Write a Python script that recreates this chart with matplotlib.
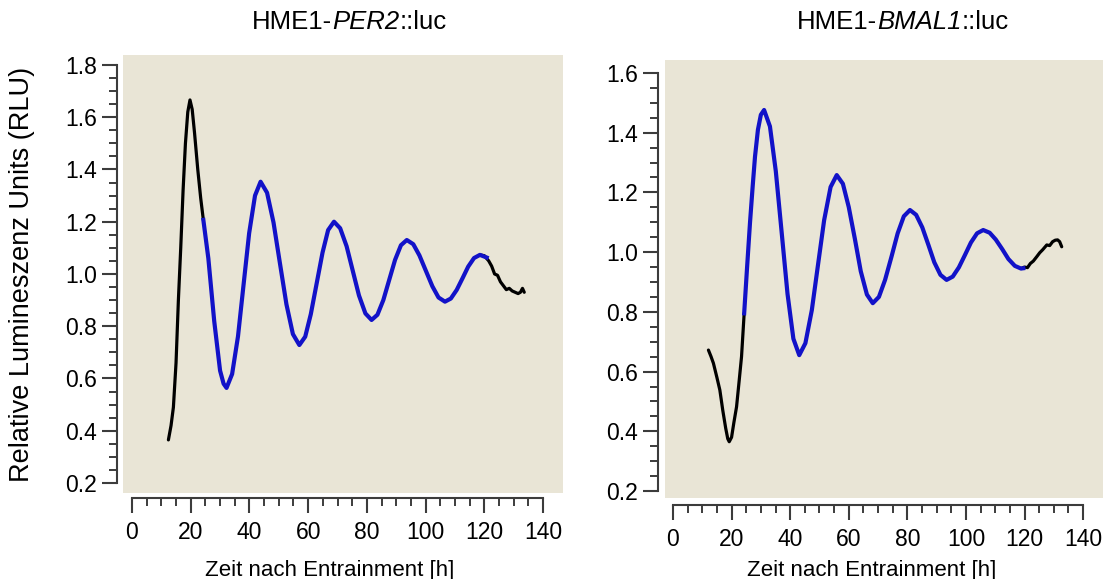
import matplotlib
matplotlib.use("Agg")
import matplotlib.pyplot as plt
import numpy as np
from matplotlib.ticker import FixedLocator

plt.rcParams['font.family'] = 'Liberation Sans'

# PER2 reporter: raw trace (black) before and after the fitted window, fit (blue)
per2_raw_start_t = [12.4, 13.3, 14.1, 15.0, 15.8, 16.6, 17.4, 18.2, 19.0, 19.75, 20.5, 21.3, 22.4, 23.4, 24.3]
per2_raw_start_v = [0.365, 0.42, 0.49, 0.66, 0.90, 1.10, 1.32, 1.50, 1.62, 1.666, 1.63, 1.54, 1.40, 1.29, 1.207]
per2_raw_end_t = [118.5, 120.0, 121.5, 122.5, 123.5, 124.5, 125.5, 126.5, 127.5, 128.5, 129.5, 130.5, 131.5, 132.3, 133.0, 133.6]
per2_raw_end_v = [1.073, 1.07, 1.05, 1.03, 1.00, 0.995, 0.97, 0.955, 0.94, 0.945, 0.935, 0.93, 0.925, 0.93, 0.945, 0.93]
per2_fit_t = [24.3, 26.0, 28.0, 30.0, 31.2, 32.2, 34.1, 36.1, 38.0, 39.9, 41.9, 43.8,
              46.0, 48.2, 50.4, 52.6, 54.8, 57.0, 59.0, 60.9, 62.9, 64.9, 66.8, 68.8,
              70.9, 73.1, 75.2, 77.3, 79.5, 81.6, 83.6, 85.6, 87.6, 89.6, 91.6, 93.6,
              95.8, 97.9, 100.1, 102.3, 104.4, 106.6, 108.6, 110.6, 112.6, 114.5, 116.5, 118.5, 120.8]
per2_fit_v = [1.207, 1.06, 0.82, 0.63, 0.58, 0.564, 0.617, 0.761, 0.959, 1.156, 1.300, 1.353,
              1.311, 1.197, 1.040, 0.884, 0.770, 0.728, 0.760, 0.846, 0.964, 1.082, 1.168, 1.200,
              1.175, 1.106, 1.012, 0.918, 0.849, 0.824, 0.844, 0.900, 0.977, 1.054, 1.110, 1.130,
              1.114, 1.071, 1.012, 0.953, 0.910, 0.894, 0.906, 0.939, 0.984, 1.028, 1.061, 1.073, 1.063]

# BMAL1 reporter
bmal1_raw_start_t = [12.1, 13.0, 13.8, 15.0, 16.0, 17.0, 18.0, 18.7, 19.2, 20.0, 20.8, 21.7, 22.6, 23.4, 24.3]
bmal1_raw_start_v = [0.672, 0.65, 0.628, 0.58, 0.538, 0.47, 0.41, 0.375, 0.365, 0.38, 0.43, 0.482, 0.57, 0.65, 0.795]
bmal1_raw_end_t = [118.8, 120.0, 121.0, 122.0, 123.0, 124.2, 125.2, 126.2, 127.6, 128.6, 129.6, 130.5, 131.3, 132.0, 132.7]
bmal1_raw_end_v = [0.945, 0.95, 0.948, 0.962, 0.97, 0.985, 0.998, 1.008, 1.024, 1.022, 1.035, 1.04, 1.041, 1.035, 1.018]
bmal1_fit_t = [24.3, 25.3, 26.3, 27.2, 28.0, 29.0, 30.0, 31.1, 33.1, 35.1, 37.1, 39.1, 41.1, 43.1,
               45.2, 47.4, 49.5, 51.6, 53.8, 55.9, 58.0, 60.0, 62.1, 64.1, 66.2, 68.2,
               70.3, 72.4, 74.6, 76.7, 78.8, 80.9, 83.0, 85.1, 87.2, 89.2, 91.3, 93.4,
               95.5, 97.6, 99.7, 101.7, 103.8, 105.9, 108.1, 110.2, 112.4, 114.5, 116.7, 118.8, 119.6]
bmal1_fit_v = [0.795, 0.95, 1.10, 1.22, 1.32, 1.41, 1.46, 1.476, 1.421, 1.271, 1.066, 0.860, 0.710, 0.655,
               0.695, 0.806, 0.957, 1.107, 1.218, 1.258, 1.229, 1.151, 1.044, 0.936, 0.858, 0.829,
               0.850, 0.907, 0.985, 1.063, 1.120, 1.141, 1.125, 1.083, 1.024, 0.966, 0.924, 0.907,
               0.918, 0.949, 0.991, 1.032, 1.063, 1.074, 1.065, 1.042, 1.010, 0.977, 0.954, 0.945, 0.946]

x_ticks = [0, 20, 40, 60, 80, 100, 120, 140]
per2_yticks = [0.2, 0.4, 0.6, 0.8, 1.0, 1.2, 1.4, 1.6, 1.8]
bmal1_yticks = [0.2, 0.4, 0.6, 0.8, 1.0, 1.2, 1.4, 1.6]

bg = '#e9e5d6'
axis_col = '#3c3c3c'
fit_col = '#1212c8'

fig = plt.figure(figsize=(11.05, 5.79), dpi=100)
ax1 = fig.add_axes([0.1113, 0.1485, 0.3982, 0.7565])
ax2 = fig.add_axes([0.6018, 0.1399, 0.3964, 0.7565])


def style_axes(ax, xlim, ylim, yticks, left_off, bottom_off):
    ax.set_facecolor(bg)
    ax.set_xlim(*xlim)
    ax.set_ylim(*ylim)
    for side in ['top', 'right']:
        ax.spines[side].set_visible(False)
    ax.spines['left'].set_bounds(yticks[0], yticks[-1])
    ax.spines['bottom'].set_bounds(x_ticks[0], x_ticks[-1])
    ax.spines['left'].set_position(('outward', left_off))
    ax.spines['bottom'].set_position(('outward', bottom_off))
    for side in ['left', 'bottom']:
        ax.spines[side].set_color(axis_col)
        ax.spines[side].set_linewidth(1.5)
    ax.set_xticks(x_ticks)
    ax.set_yticks(yticks)
    ax.set_yticklabels(['%.1f' % v for v in yticks])
    # minor ticks only between the first and last major tick
    ax.xaxis.set_minor_locator(FixedLocator(np.arange(x_ticks[0], x_ticks[-1] + 0.1, 5)))
    ax.yaxis.set_minor_locator(FixedLocator(np.arange(yticks[0], yticks[-1] + 0.01, 0.05)))
    ax.tick_params(which='major', direction='out', length=10.5, width=1.5, color=axis_col,
                   labelsize=16.5, labelcolor='black')
    ax.tick_params(which='minor', direction='out', length=5.5, width=1.4, color=axis_col)
    ax.tick_params(axis='y', pad=4)
    ax.tick_params(axis='x', pad=6)


style_axes(ax1, (-3.07, 146.8), (0.1617, 1.838), per2_yticks, 4.3, 3.6)
style_axes(ax2, (-2.73, 146.8), (0.1766, 1.6435), bmal1_yticks, 5.0, 5.0)

# raw traces underneath, fitted curve on top
ax1.plot(per2_raw_start_t, per2_raw_start_v, color='black', lw=2.3, solid_capstyle='round')
ax1.plot(per2_raw_end_t, per2_raw_end_v, color='black', lw=2.3, solid_capstyle='round')
ax1.plot(per2_fit_t, per2_fit_v, color=fit_col, lw=3.0, solid_joinstyle='round')

ax2.plot(bmal1_raw_start_t, bmal1_raw_start_v, color='black', lw=2.3, solid_capstyle='round')
ax2.plot(bmal1_raw_end_t, bmal1_raw_end_v, color='black', lw=2.3, solid_capstyle='round')
ax2.plot(bmal1_fit_t, bmal1_fit_v, color=fit_col, lw=3.0, solid_joinstyle='round')


def mixed_title(cx, y, parts, size):
    # draw a title made of upright and italic pieces, centred on cx (figure pixels)
    renderer = fig.canvas.get_renderer()
    texts = []
    for s, style in parts:
        t = fig.text(0, y, s, fontsize=size, style=style, ha='left', va='baseline')
        texts.append(t)
    widths = [t.get_window_extent(renderer).width for t in texts]
    x = cx - sum(widths) / 2
    for t, w in zip(texts, widths):
        t.set_x(x / fig.bbox.width)
        x += w


mixed_title(349, 1 - 29 / 579, [('HME1-', 'normal'), ('PER2', 'italic'), ('::luc', 'normal')], 18.5)
mixed_title(903, 1 - 29 / 579, [('HME1-', 'normal'), ('BMAL1', 'italic'), ('::luc', 'normal')], 18.5)

fig.text(330 / 1105, 1 - 576 / 579, 'Zeit nach Entrainment [h]', ha='center', va='baseline', fontsize=16)
fig.text(872 / 1105, 1 - 576 / 579, 'Zeit nach Entrainment [h]', ha='center', va='baseline', fontsize=16)
fig.text(22 / 1105, 1 - 274 / 579, 'Relative Lumineszenz Units (RLU)', ha='center', va='center',
         rotation=90, fontsize=19.5)

fig.savefig('out.png', dpi=100, facecolor='white')
